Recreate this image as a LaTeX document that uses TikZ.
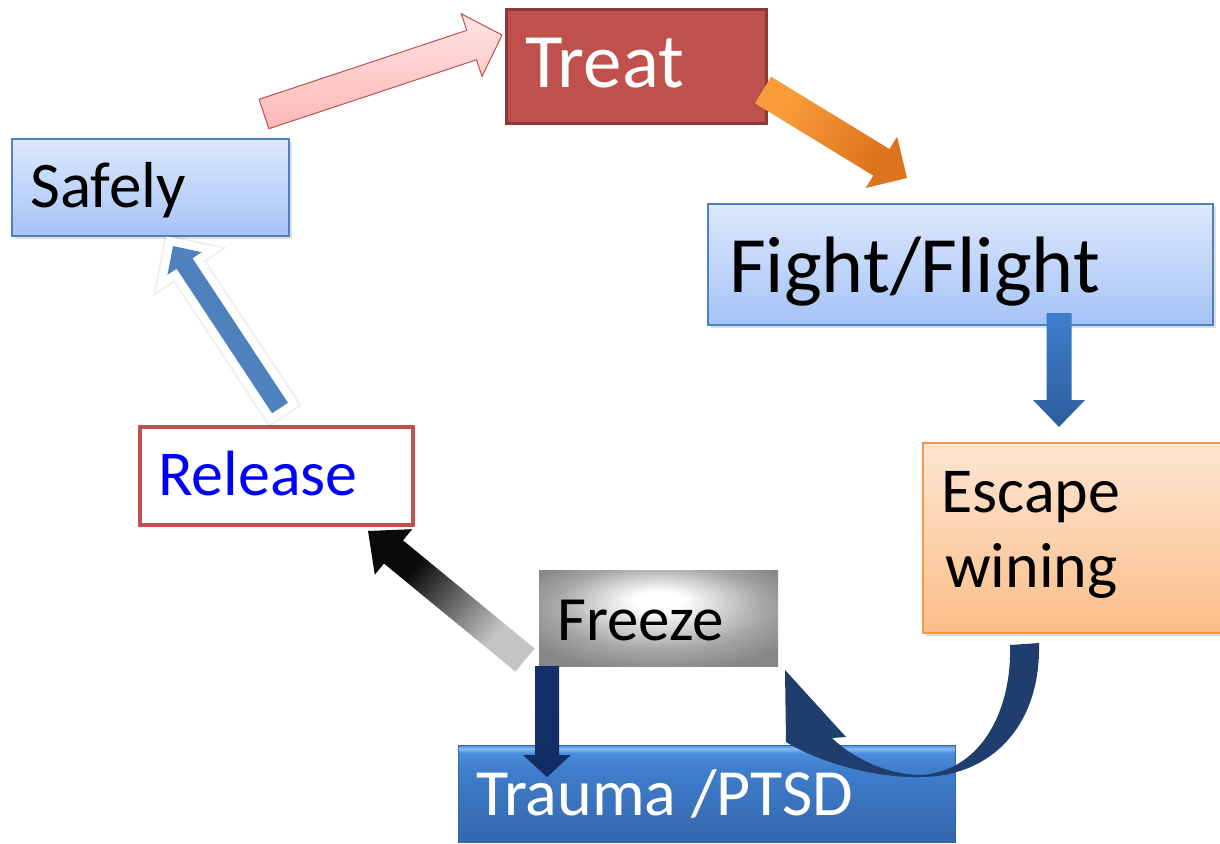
\documentclass[tikz,border=0pt]{standalone}
\usepackage{fontspec}
\setmainfont{Carlito}
\usetikzlibrary{calc,shadows}
\definecolor{treatfill}{HTML}{C0504D}
\definecolor{treatedge}{HTML}{8C3836}
\definecolor{bluetop}{HTML}{DDE8FC}
\definecolor{bluebot}{HTML}{A5C3F7}
\definecolor{blueedge}{HTML}{4F81BD}
\definecolor{peachtop}{HTML}{FDE6D3}
\definecolor{peachbot}{HTML}{FBBD88}
\definecolor{peachedge}{HTML}{F79646}
\definecolor{reledge}{HTML}{C0504D}
\definecolor{trbot}{HTML}{3466AC}
\definecolor{trmid}{HTML}{3F7DCB}
\definecolor{trtop}{HTML}{4A8CDC}
\definecolor{trhigh}{HTML}{86BCF2}
\definecolor{navy}{HTML}{1F3E6E}
\definecolor{pinktop}{HTML}{FCE4E3}
\definecolor{pinkbot}{HTML}{FFB8B8}
\definecolor{oranA}{HTML}{FA9C3C}
\definecolor{oranB}{HTML}{DD731C}
\definecolor{downA}{HTML}{3E7ECC}
\definecolor{downB}{HTML}{2D5E9E}
\definecolor{frA}{HTML}{14306A}
\definecolor{frB}{HTML}{5B7FC6}
\definecolor{frC}{HTML}{122B64}
\definecolor{safeblue}{HTML}{4F81BD}
\definecolor{blkA}{HTML}{C4C4C4}
\definecolor{blkB}{HTML}{0A0A0A}
\pgfdeclareverticalshading{traumashade}{100bp}{color(0bp)=(trbot); color(25bp)=(trbot); color(62bp)=(trmid); color(71bp)=(trtop); color(73.5bp)=(trhigh); color(75bp)=(trtop); color(100bp)=(trtop)}
\pgfdeclareradialshading{freezeshade}{\pgfpoint{0bp}{10bp}}{color(0bp)=(white); color(5bp)=(white); color(22bp)=(gray!70); color(32bp)=(gray!95); color(50bp)=(gray!95)}
\pgfdeclarehorizontalshading{blkshade}{100bp}{color(0bp)=(blkA); color(32bp)=(blkA); color(66bp)=(blkB); color(100bp)=(blkB)}
\pgfdeclarehorizontalshading{orshade}{100bp}{color(0bp)=(oranA); color(30bp)=(oranA); color(70bp)=(oranB); color(100bp)=(oranB)}
\newcommand\blockarrow[6]{%
  \coordinate (bh) at ($(#3)!#6!(#2)$);
  \path[#1] ($(#2)!#4!90:(#3)$) -- ($(bh)!#4!90:(#3)$) -- ($(bh)!#5!90:(#3)$) -- (#3)
    -- ($(bh)!#5!-90:(#3)$) -- ($(bh)!#4!-90:(#3)$) -- ($(#2)!#4!-90:(#3)$) -- cycle;}
\tikzset{
  box/.style={rectangle, inner sep=0, anchor=north west},
  shad/.style={drop shadow={opacity=0.25, shadow xshift=3pt, shadow yshift=-3pt}},
  bluebox/.style={box, shad, draw=blueedge, line width=2, top color=bluetop, bottom color=bluebot},
  peachbox/.style={box, shad, draw=peachedge, line width=2, top color=peachtop, bottom color=peachbot},
  txt/.style={inner sep=0, anchor=base west},
}
\begin{document}
\begin{tikzpicture}[x=1pt, y=-1pt]
\useasboundingbox (0,0) rectangle (1220,843);
\clip (0,0) rectangle (1220,843);
% boxes
\node[box, draw=treatedge, line width=3, fill=treatfill, minimum width=260, minimum height=114] (treat) at (505,8) {};
\node[bluebox, minimum width=277, minimum height=97] (safely) at (11,138) {};
\node[bluebox, minimum width=505, minimum height=121] (fight) at (707,203) {};
\node[peachbox, minimum width=310, minimum height=190] (escape) at (922,442) {};
\node[box, draw=reledge, line width=4, fill=white, minimum width=273, minimum height=98] (release) at (138,425) {};
\node[box, shading=freezeshade, minimum width=239, minimum height=96] (freeze) at (539,570) {};
\node[box, draw=trbot, line width=1, shading=traumashade, minimum width=497, minimum height=97] (trauma) at (458,745) {};
% labels
\node[txt, font=\fontsize{77}{92}\selectfont, text=white] (treatlbl) at (525,88) {Treat};
\node[txt, font=\fontsize{65}{78}\selectfont] (safelylbl) at (30,207) {Safely};
\node[txt, font=\fontsize{80}{96}\selectfont] (fightlbl) at (729,292) {Fight/Flight};
\node[txt, font=\fontsize{64}{77}\selectfont] (escapelbl) at (941,512) {Escape};
\node[txt, font=\fontsize{64}{77}\selectfont] (wininglbl) at (945,587) {wining};
\node[txt, font=\fontsize{64}{77}\selectfont, text={rgb,255:red,0;green,0;blue,255}] (releaselbl) at (158,495) {Release};
\node[txt, font=\fontsize{63}{76}\selectfont] (freezelbl) at (557,640) {Freeze};
\node[txt, font=\fontsize{66}{79}\selectfont, text=white] (traumalbl) at (476,815) {Trauma /PTSD};
% arrow end points
\coordinate (a1s) at (264,114); \coordinate (a1e) at (502,35);
\coordinate (a2s) at (763,90);  \coordinate (a2e) at (907,178);
\coordinate (a3s) at (1059,313); \coordinate (a3e) at (1059,427);
\coordinate (a5s) at (547,666); \coordinate (a5e) at (547,777);
\coordinate (a6s) at (525,660); \coordinate (a6e) at (368,531);
\coordinate (a7s) at (280,408); \coordinate (a7e) at (173,246);
% Safely -> Treat
\blockarrow{draw=reledge, line width=1, top color=pinktop, bottom color=pinkbot}{a1s}{a1e}{15.5pt}{33pt}{32pt}
% Treat -> Fight/Flight
\blockarrow{fill=black, opacity=0.15, shift={(3,4)}}{a2s}{a2e}{15.5pt}{30pt}{30pt}
\blockarrow{shading=orshade, shading angle=-31}{a2s}{a2e}{15.5pt}{30pt}{30pt}
% Fight/Flight -> Escape
\blockarrow{top color=downA, bottom color=downB}{a3s}{a3e}{12.5pt}{26pt}{27pt}
% Escape -> Freeze (curved)
\fill[navy] (1039,643) .. controls (1041,725) and (992,777) .. (920,777)
  .. controls (870,778) and (815,760) .. (786,742) -- (785,670) -- (846,737) -- (832,738)
  .. controls (855,760) and (890,775) .. (920,775)
  .. controls (980,772) and (1012,712) .. (1010,645) -- cycle;
% Freeze -> Trauma
\blockarrow{top color=frA, middle color=frB, bottom color=frC}{a5s}{a5e}{12pt}{24pt}{22pt}
% Freeze -> Release
\blockarrow{shading=blkshade, shading angle=140}{a6s}{a6e}{15pt}{29.5pt}{33pt}
% Release -> Safely
\blockarrow{draw=black, opacity=0.06, line width=20, line join=miter}{a7s}{a7e}{9.5pt}{20.5pt}{21pt}
\blockarrow{draw=white, line width=16, line join=miter}{a7s}{a7e}{9.5pt}{20.5pt}{21pt}
\blockarrow{fill=safeblue}{a7s}{a7e}{9.5pt}{20.5pt}{21pt}
\end{tikzpicture}
\end{document}
